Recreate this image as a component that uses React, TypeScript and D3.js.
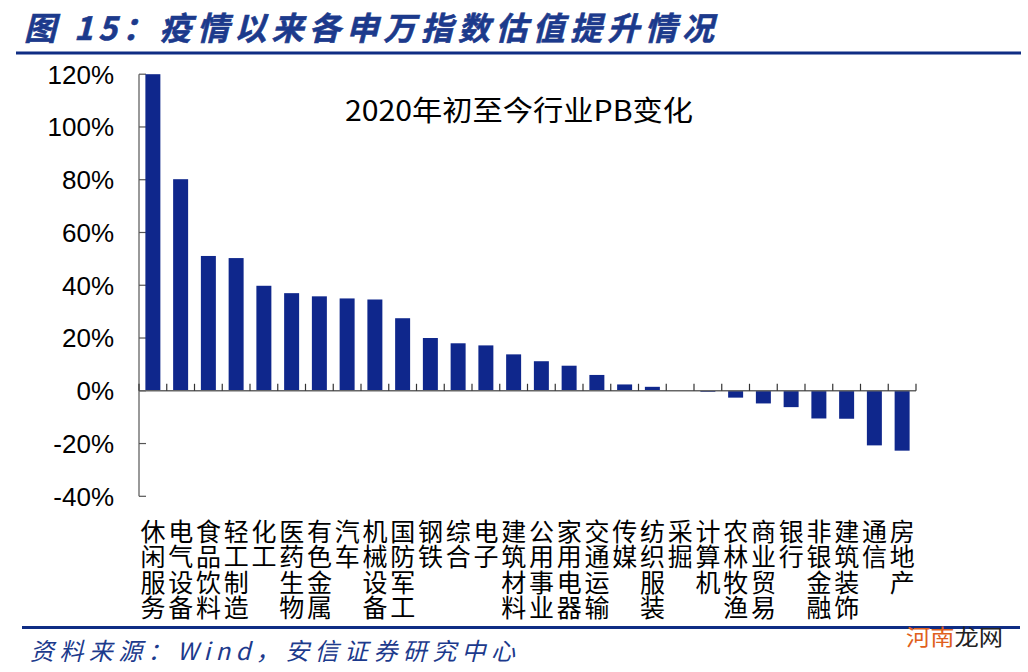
import React from "react";
import * as d3 from "d3";

const categories = [
  "休闲服务", "电气设备", "食品饮料", "轻工制造", "化工", "医药生物", "有色金属",
  "汽车", "机械设备", "国防军工", "钢铁", "综合", "电子", "建筑材料", "公用事业",
  "家用电器", "交通运输", "传媒", "纺织服装", "采掘", "计算机", "农林牧渔",
  "商业贸易", "银行", "非银金融", "建筑装饰", "通信", "房地产",
];
const values = [
  120, 80.2, 51.1, 50.3, 39.8, 37, 35.8, 35, 34.6, 27.5, 20, 18, 17.2, 13.8, 11.2,
  9.5, 6, 2.4, 1.5, 0, -0.4, -2.6, -4.8, -6.2, -10.5, -10.6, -20.7, -22.7,
];
const yTicks = [120, 100, 80, 60, 40, 20, 0, -20, -40];

const W = 1028;
const H = 672;
const X0 = 139;
const X1 = 916;

export default function App() {
  const x = d3.scaleBand<string>().domain(categories).range([X0, X1]).padding(0);
  const y = d3.scaleLinear().domain([-40, 120]).range([496.3, 74.2]);
  const bw = x.bandwidth() * 0.54;
  const boundaries = d3.range(categories.length + 1).map((i) => X0 + i * x.step());
  const cjk = '"Noto Sans CJK SC", "Noto Sans", sans-serif';
  return (
    <svg width={W} height={H} style={{ position: "absolute", left: 0, top: 0, background: "#fff" }}>
      <rect x={0} y={0} width={W} height={H} fill="#fff" />
      <text
        x={24}
        y={40}
        fontFamily={cjk}
        fontWeight="bold"
        fontStyle="italic"
        fontSize={32}
        fill="#1c3a8c"
        stroke="#1c3a8c"
        strokeWidth={0.6}
        textLength={690}
        lengthAdjust="spacing"
      >
        图 15：疫情以来各申万指数估值提升情况
      </text>
      <rect x={16} y={51.5} width={1005} height={3} fill="#0f2d84" />

      {/* y axis */}
      <line x1={X0} x2={X0} y1={y(120)} y2={y(-40)} stroke="#555" strokeWidth={1.2} />
      {yTicks.map((t) => (
        <g key={t}>
          <line x1={X0} x2={X0 + 7} y1={y(t)} y2={y(t)} stroke="#555" strokeWidth={1.2} />
          <text
            x={114}
            y={y(t)}
            dy="0.36em"
            textAnchor="end"
            fontFamily='"Liberation Sans", Arial, sans-serif'
            fontSize={26}
            fill="#000"
          >
            {t}%
          </text>
        </g>
      ))}

      {/* bars */}
      {categories.map((c, i) => {
        const v = values[i];
        const yTop = Math.min(y(v), y(0));
        const h = Math.abs(y(v) - y(0));
        return (
          <rect
            key={c}
            x={(x(c) as number) + (x.bandwidth() - bw) / 2}
            y={yTop}
            width={bw}
            height={h}
            fill="#0f278c"
          />
        );
      })}

      {/* x axis at 0 */}
      <line x1={X0} x2={X1} y1={y(0)} y2={y(0)} stroke="#666" strokeWidth={1.5} />
      {boundaries.map((bx, i) => (
        <line key={i} x1={bx} x2={bx} y1={y(0)} y2={y(0) - 7} stroke="#333" strokeWidth={1.2} />
      ))}

      {/* category labels, vertical text per column */}
      {categories.map((c) => {
        const cx = (x(c) as number) + x.bandwidth() / 2;
        return (
          <text
            key={c}
            x={cx}
            y={518.5}
            fontFamily={cjk}
            fontSize={25}
            fill="#000"
            letterSpacing={0.5}
            style={{ writingMode: "vertical-rl", textOrientation: "upright" } as React.CSSProperties}
          >
            {c}
          </text>
        );
      })}

      <text
        x={345}
        y={111}
        dy="0.36em"
        fontFamily={cjk}
        fontSize={28}
        fill="#000"
        textLength={348}
        lengthAdjust="spacingAndGlyphs"
      >
        2020年初至今行业PB变化
      </text>

      <rect x={22} y={626} width={998} height={3} fill="#0f2d84" />
      <text
        x={30}
        y={660}
        fontFamily={cjk}
        fontStyle="italic"
        fontSize={24}
        fill="#1c3a8c"
        textLength={485}
        lengthAdjust="spacing"
      >
        资料来源：Wind，安信证券研究中心
      </text>
      <text x={906} y={645} fontFamily={cjk} fontSize={22} textLength={97} lengthAdjust="spacingAndGlyphs">
        <tspan fill="#e0601c">河南</tspan>
        <tspan fill="#222">龙网</tspan>
      </text>
    </svg>
  );
}
